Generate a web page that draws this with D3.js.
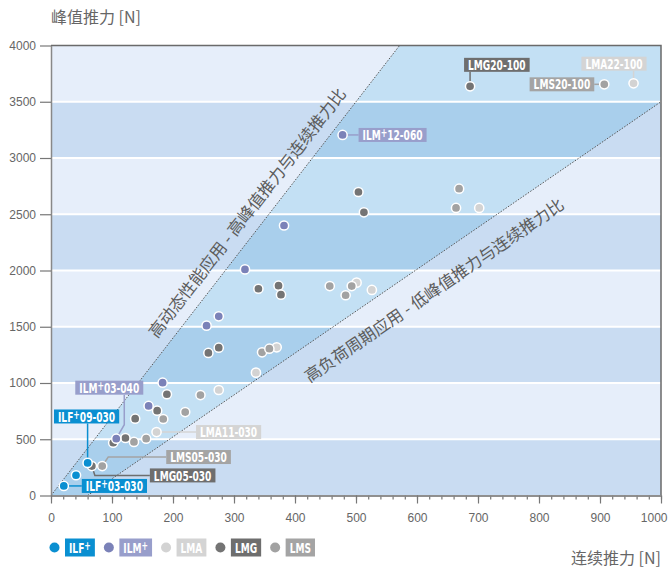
<!DOCTYPE html>
<html>
<head>
<meta charset="utf-8">
<script src="https://cdn.jsdelivr.net/npm/d3@7"></script>
<style>
body { margin: 0; background: #fff; }
svg { display: block; font-family: "Liberation Sans", Arial, sans-serif; }
</style>
</head>
<body>
<svg id="chart" width="668" height="570"></svg>
<script>
// continuous force [N], peak force [N]
var ilfPlus = [[21, 85], [41, 180], [60, 290]];
var ilmPlus = [[478, 3205], [382, 2400], [318, 2010], [275, 1593], [255, 1510], [183, 1003], [160, 796], [107, 505]];
var lma = [[955, 3664], [702, 2556], [501, 1892], [526, 1827], [370, 1317], [336, 1092], [275, 938], [173, 564]];
var lmg = [[687, 3637], [504, 2698], [513, 2517], [340, 1838], [373, 1865], [377, 1785], [258, 1267], [275, 1314],
           [190, 900], [174, 754], [138, 683], [122, 511], [102, 469], [67, 262]];
var lms = [[907, 3655], [669, 2727], [664, 2556], [457, 1862], [483, 1780], [493, 1862], [346, 1273], [358, 1305],
           [245, 893], [220, 742], [184, 680], [156, 505], [136, 476], [84, 262]];

var seriesNames = ["ILF+", "ILM+", "LMA", "LMG", "LMS"];
var yTicks = [0, 500, 1000, 1500, 2000, 2500, 3000, 3500, 4000];
var xTicks = [0, 100, 200, 300, 400, 500, 600, 700, 800, 900, 1000];

// ratio lines (peak / continuous)
var highRatioLine = [[0, 0], [4000 / 7, 4000]];
var lowRatioLine = [[60, 0], [1000, 3500]];
var highText = "高动态性能应用 - 高峰值推力与连续推力比";
var lowText = "高负荷周期应用 - 低峰值推力与连续推力比";

// labelled products: name, series, index of point
var callouts = [
    ["LMG20-100", "LMG", 0],
    ["LMA22-100", "LMA", 0],
    ["LMS20-100", "LMS", 0],
    ["ILM+12-060", "ILM+", 0],
    ["ILM+03-040", "ILM+", 7],
    ["ILF+09-030", "ILF+", 2],
    ["ILF+03-030", "ILF+", 0],
    ["LMA11-030", "LMA", 7],
    ["LMS05-030", "LMS", 13],
    ["LMG05-030", "LMG", 13]
];

/*
layout of the callout boxes, in pixels relative to the point
side: which box edge dx refers to, leader: bends of the connector
*/
var calloutLayout = {
    "LMG20-100": {side: "left", dx: -6, dy: -21.5, leader: [[0, 0], [0, -14.5]]},
    "LMA22-100": {side: "right", dx: 13, dy: -19.6, leader: [[0, 0], [0, -12.6]]},
    "LMS20-100": {side: "right", dx: -10, dy: 0, leader: [[0, 0], [-10, 0]]},
    "ILM+12-060": {side: "left", dx: 16, dy: 0, leader: [[0, 0], [16, 0]]},
    "ILM+03-040": {side: "left", dx: -41, dy: -51, leader: [[0, 0], [8, -14], [8, -44]]},
    "ILF+09-030": {side: "left", dx: -33.6, dy: -46.4, leader: [[0, 0], [0, -39.5]]},
    "ILF+03-030": {side: "left", dx: 18, dy: 0, leader: [[0, 0], [18, 0]]},
    "LMA11-030": {side: "left", dx: 39.5, dy: 0, leader: [[0, 0], [39.5, 0]]},
    "LMS05-030": {side: "left", dx: 64, dy: -9, leader: [[0, 0], [6, -9], [64, -9]]},
    "LMG05-030": {side: "left", dx: 58, dy: 9.4, leader: [[0, 0], [3, 9.4], [58, 9.4]]}
};

var pointColor = {"ILF+": "#0a8fd1", "ILM+": "#7b82b8", "LMA": "#d3d3d3", "LMG": "#747474", "LMS": "#a2a2a2"};
var boxColor = {"ILF+": "#0a8fd1", "ILM+": "#989ecb", "LMA": "#d4d4d4", "LMG": "#6e6e6e", "LMS": "#a4a4a4"};
var seriesData = {"ILF+": ilfPlus, "ILM+": ilmPlus, "LMA": lma, "LMG": lmg, "LMS": lms};

var squeeze = 0.72; // condensed look for the label font

var svg = d3.select("#chart");
var x = d3.scaleLinear().domain([0, 1000]).range([51, 661]);
var y = d3.scaleLinear().domain([0, 4000]).range([495.5, 45.5]);

var defs = svg.append("defs");
defs.append("clipPath").attr("id", "plotClip")
    .append("rect")
    .attr("x", x(0)).attr("y", y(4000))
    .attr("width", x(1000) - x(0)).attr("height", y(0) - y(4000));

var wedge = [highRatioLine[0], highRatioLine[1], [1000, 4000], lowRatioLine[1], lowRatioLine[0]];
var line = d3.line().x(function(d){ return x(d[0]); }).y(function(d){ return y(d[1]); });
defs.append("clipPath").attr("id", "wedgeClip")
    .append("path").attr("d", line(wedge) + "Z");

// background bands
function drawBands(g, light, dark){
    g.selectAll("rect").data(yTicks.slice(0, -1)).enter().append("rect")
        .attr("x", x(0))
        .attr("y", function(d){ return y(d + 500); })
        .attr("width", x(1000) - x(0))
        .attr("height", function(d){ return y(d) - y(d + 500); })
        .style("fill", function(d, i){ return i % 2 ? light : dark; });
}
drawBands(svg.append("g").attr("clip-path", "url(#plotClip)"), "#e6eefa", "#c9dcf2");
drawBands(svg.append("g").attr("clip-path", "url(#wedgeClip)"), "#c3e0f4", "#a9cfec");

svg.append("g").selectAll("line").data(yTicks.slice(1, -1)).enter().append("line")
    .attr("x1", x(0)).attr("x2", x(1000))
    .attr("y1", function(d){ return y(d); }).attr("y2", function(d){ return y(d); })
    .style("stroke", "#fff").style("stroke-width", 2);

// dotted ratio lines
var ratioG = svg.append("g").attr("clip-path", "url(#plotClip)");
[highRatioLine, lowRatioLine].forEach(function(l){
    ratioG.append("path")
        .attr("d", line(l))
        .style("fill", "none")
        .style("stroke", "#555")
        .style("stroke-width", 1)
        .style("stroke-dasharray", "1.5,1.5");
});

function diagText(l, at, offset, txt){
    var a = Math.atan2(y(l[1][1]) - y(l[0][1]), x(l[1][0]) - x(l[0][0])) * 180 / Math.PI;
    var t = (at - l[0][0]) / (l[1][0] - l[0][0]);
    var cx = x(at), cy = y(l[0][1] + t * (l[1][1] - l[0][1]));
    svg.append("text")
        .attr("transform", "translate(" + cx + "," + cy + ") rotate(" + a + ")")
        .attr("dy", offset)
        .attr("text-anchor", "middle")
        .attr("dominant-baseline", "central")
        .style("font-family", "'Noto Sans CJK SC', sans-serif")
        .style("font-size", "16.5px")
        .style("fill", "#5c5c5c")
        .text(txt);
}
diagText(highRatioLine, 345, -19, highText);
diagText(lowRatioLine, 603, 26, lowText);

// border
svg.append("path")
    .attr("d", "M" + x(0) + "," + y(4000) + "H" + x(1000) + "V" + y(0))
    .style("fill", "none").style("stroke", "#6a6a6a").style("stroke-width", 1.5);

// axes
var yAxis = svg.append("g").attr("transform", "translate(" + x(0) + ",0)")
    .call(d3.axisLeft(y).tickValues(yTicks).tickSize(11).tickSizeOuter(0).tickPadding(4).tickFormat(d3.format("d")));
var xMinor = svg.append("g").attr("transform", "translate(0," + y(0) + ")")
    .call(d3.axisBottom(x).tickValues(d3.range(0, 1001, 20)).tickSize(4).tickSizeOuter(0).tickFormat(""));
var xAxis = svg.append("g").attr("transform", "translate(0," + y(0) + ")")
    .call(d3.axisBottom(x).tickValues(xTicks).tickSize(8).tickSizeOuter(0).tickPadding(10).tickFormat(d3.format("d")));
[yAxis, xMinor, xAxis].forEach(function(a){
    a.select(".domain").style("stroke", "#888").style("stroke-width", 1.5);
    a.selectAll(".tick line").style("stroke", "#777").style("stroke-width", 1.2);
    a.selectAll("text").style("font-family", "'Liberation Sans', Arial, sans-serif")
        .style("font-size", "12px").style("fill", "#666");
});
xAxis.selectAll(".tick text").filter(function(d){ return d === 1000; })
    .attr("text-anchor", "end").attr("x", 6);

// titles
svg.append("text").attr("x", 51).attr("y", 23)
    .style("font-family", "'Noto Sans CJK SC', sans-serif")
    .style("font-size", "16px").style("fill", "#666").text("峰值推力 [N]");
svg.append("text").attr("x", 661).attr("y", 564).attr("text-anchor", "end")
    .style("font-family", "'Noto Sans CJK SC', sans-serif")
    .style("font-size", "16px").style("fill", "#666").text("连续推力 [N]");

/*
white bold label in a coloured box, the plus raised
returns the width of the box
*/
function labelBox(parent, name, color, left, cy, h, pad, anchorRight){
    var rect = parent.append("rect");
    var tg = parent.append("g");
    var t = tg.append("text")
        .style("font-family", "'DejaVu Sans Condensed', 'Liberation Sans', sans-serif")
        .style("font-weight", "bold").style("font-size", "14px").style("fill", "#fff")
        .attr("dominant-baseline", "central");
    var parts = name.split("+");
    t.append("tspan").text(parts[0]);
    if(parts.length > 1){
        t.append("tspan").attr("dy", -3).style("font-size", "12px").text("+");
        t.append("tspan").attr("dy", 3).text(parts[1]);
    }
    var w = t.node().getComputedTextLength() * squeeze + 2 * pad;
    if(anchorRight) left = left - w;
    rect.attr("x", left).attr("y", cy - h / 2).attr("width", w).attr("height", h).style("fill", color);
    tg.attr("transform", "translate(" + (left + pad) + "," + (cy + 0.5) + ") scale(" + squeeze + ",1)");
    return w;
}

// callouts (connectors + boxes) under the points
var calloutG = svg.append("g");
callouts.forEach(function(c){
    var name = c[0], s = c[1], p = seriesData[s][c[2]];
    var lay = calloutLayout[name];
    var px = x(p[0]), py = y(p[1]);
    calloutG.append("path")
        .attr("d", d3.line()(lay.leader.map(function(o){ return [px + o[0], py + o[1]]; })))
        .style("fill", "none").style("stroke", boxColor[s]).style("stroke-width", 1.5);
    labelBox(calloutG.append("g"), name, boxColor[s], px + lay.dx, py + lay.dy, 14, 4, lay.side === "right");
});

// points
["LMA", "LMS", "LMG", "ILM+", "ILF+"].forEach(function(s){
    svg.append("g").selectAll("circle").data(seriesData[s]).enter().append("circle")
        .attr("cx", function(d){ return x(d[0]); })
        .attr("cy", function(d){ return y(d[1]); })
        .attr("r", 4.6)
        .style("fill", pointColor[s])
        .style("stroke", "#fff")
        .style("stroke-width", 1.5);
});

// legend
var lx = 49.5;
var legend = svg.append("g");
seriesNames.forEach(function(s){
    legend.append("circle").attr("cx", lx + 5).attr("cy", 547.5).attr("r", 5).style("fill", pointColor[s]);
    var w = labelBox(legend.append("g"), s, boxColor[s], lx + 15.5, 547.5, 18, 4, false);
    lx += 15.5 + w + 9;
});
</script>
</body>
</html>
